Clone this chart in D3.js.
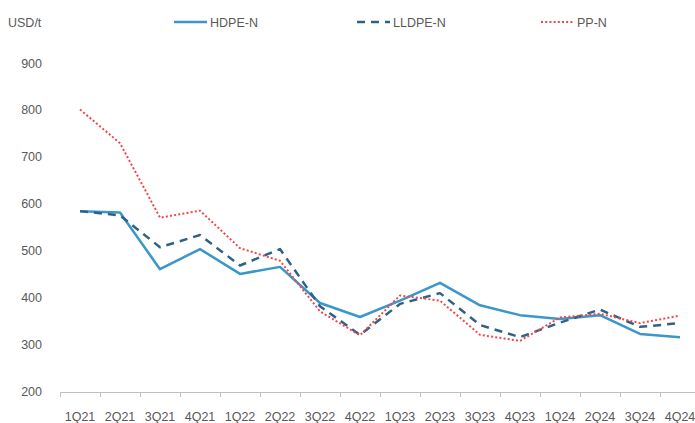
<!DOCTYPE html>
<html><head><meta charset="utf-8">
<script src="https://cdn.jsdelivr.net/npm/d3@7"></script>
<style>
html,body{margin:0;padding:0;background:#fff;}
svg text{font-family:"Liberation Sans Narrow","Liberation Sans",Arial,sans-serif;fill:#595959;}
</style></head>
<body><svg id="c" width="695" height="423"></svg>
<script>
const categories = ["1Q21","2Q21","3Q21","4Q21","1Q22","2Q22","3Q22","4Q22","1Q23","2Q23","3Q23","4Q23","1Q24","2Q24","3Q24","4Q24"];
const hdpe  = [586, 583, 462, 505, 452, 467, 390, 360, 395, 433, 385, 364, 356, 364, 324, 317];
const lldpe = [586, 577, 509, 535, 470, 505, 383, 322, 388, 411, 343, 317, 348, 376, 339, 347];
const pp    = [803, 731, 572, 587, 507, 480, 372, 321, 406, 395, 322, 309, 359, 367, 347, 363];
const yTicks = [200, 300, 400, 500, 600, 700, 800, 900];
const seriesNames = ["HDPE-N", "LLDPE-N", "PP-N"];

const svg = d3.select("#c");
const x = d3.scaleBand().domain(categories).range([60, 700]);
const y = d3.scaleLinear().domain([200, 900]).range([392, 64]);

// y labels (no axis line)
const yAxis = d3.axisLeft(y).tickValues(yTicks).tickSize(0).tickPadding(0);
const gy = svg.append("g").attr("transform", "translate(42,-1)").call(yAxis);
gy.select(".domain").remove();
gy.selectAll("text").attr("font-size", 12.5).attr("fill", "#595959").attr("font-family", null);

// x axis
const xAxis = d3.axisBottom(x).tickSizeOuter(0).tickSizeInner(0).tickPadding(20);
const gx = svg.append("g").attr("transform", "translate(0,392)").call(xAxis);
gx.select(".domain").attr("stroke", "#bfbfbf").attr("stroke-width", 1);
gx.selectAll("text").attr("font-size", 12.5).attr("fill", "#595959").attr("font-family", null);
// tick marks at band boundaries
svg.append("g").selectAll("line").data(categories).join("line")
  .attr("x1", d => x(d) + 0.5).attr("x2", d => x(d) + 0.5)
  .attr("y1", 392).attr("y2", 397).attr("stroke", "#bfbfbf").attr("stroke-width", 1);

const cx = d => x(d) + x.bandwidth() / 2;
const line = d3.line().x((d, i) => cx(categories[i])).y(d => y(d));

const styles = [
  {data: hdpe,  color: "#3b96c9", w: 2.5, dash: null},
  {data: lldpe, color: "#2f6385", w: 2.5, dash: "8,6"},
  {data: pp,    color: "#f0484a", w: 2,   dash: "2,2.2"}
];
styles.forEach(s => {
  svg.append("path").datum(s.data).attr("d", line)
    .attr("fill", "none").attr("stroke", s.color).attr("stroke-width", s.w)
    .attr("stroke-dasharray", s.dash).attr("stroke-linejoin", "round");
});

// unit label
svg.append("text").attr("x", 8).attr("y", 27).attr("font-size", 12.5).text("USD/t");

// legend
const legX = [174, 357, 541];
seriesNames.forEach((n, i) => {
  const s = styles[i];
  svg.append("line").attr("x1", legX[i]).attr("x2", legX[i] + 33).attr("y1", 22).attr("y2", 22)
    .attr("stroke", s.color).attr("stroke-width", s.w).attr("stroke-dasharray", s.dash);
  svg.append("text").attr("x", legX[i] + 36).attr("y", 27).attr("font-size", 12.5).text(n);
});
</script></body></html>
